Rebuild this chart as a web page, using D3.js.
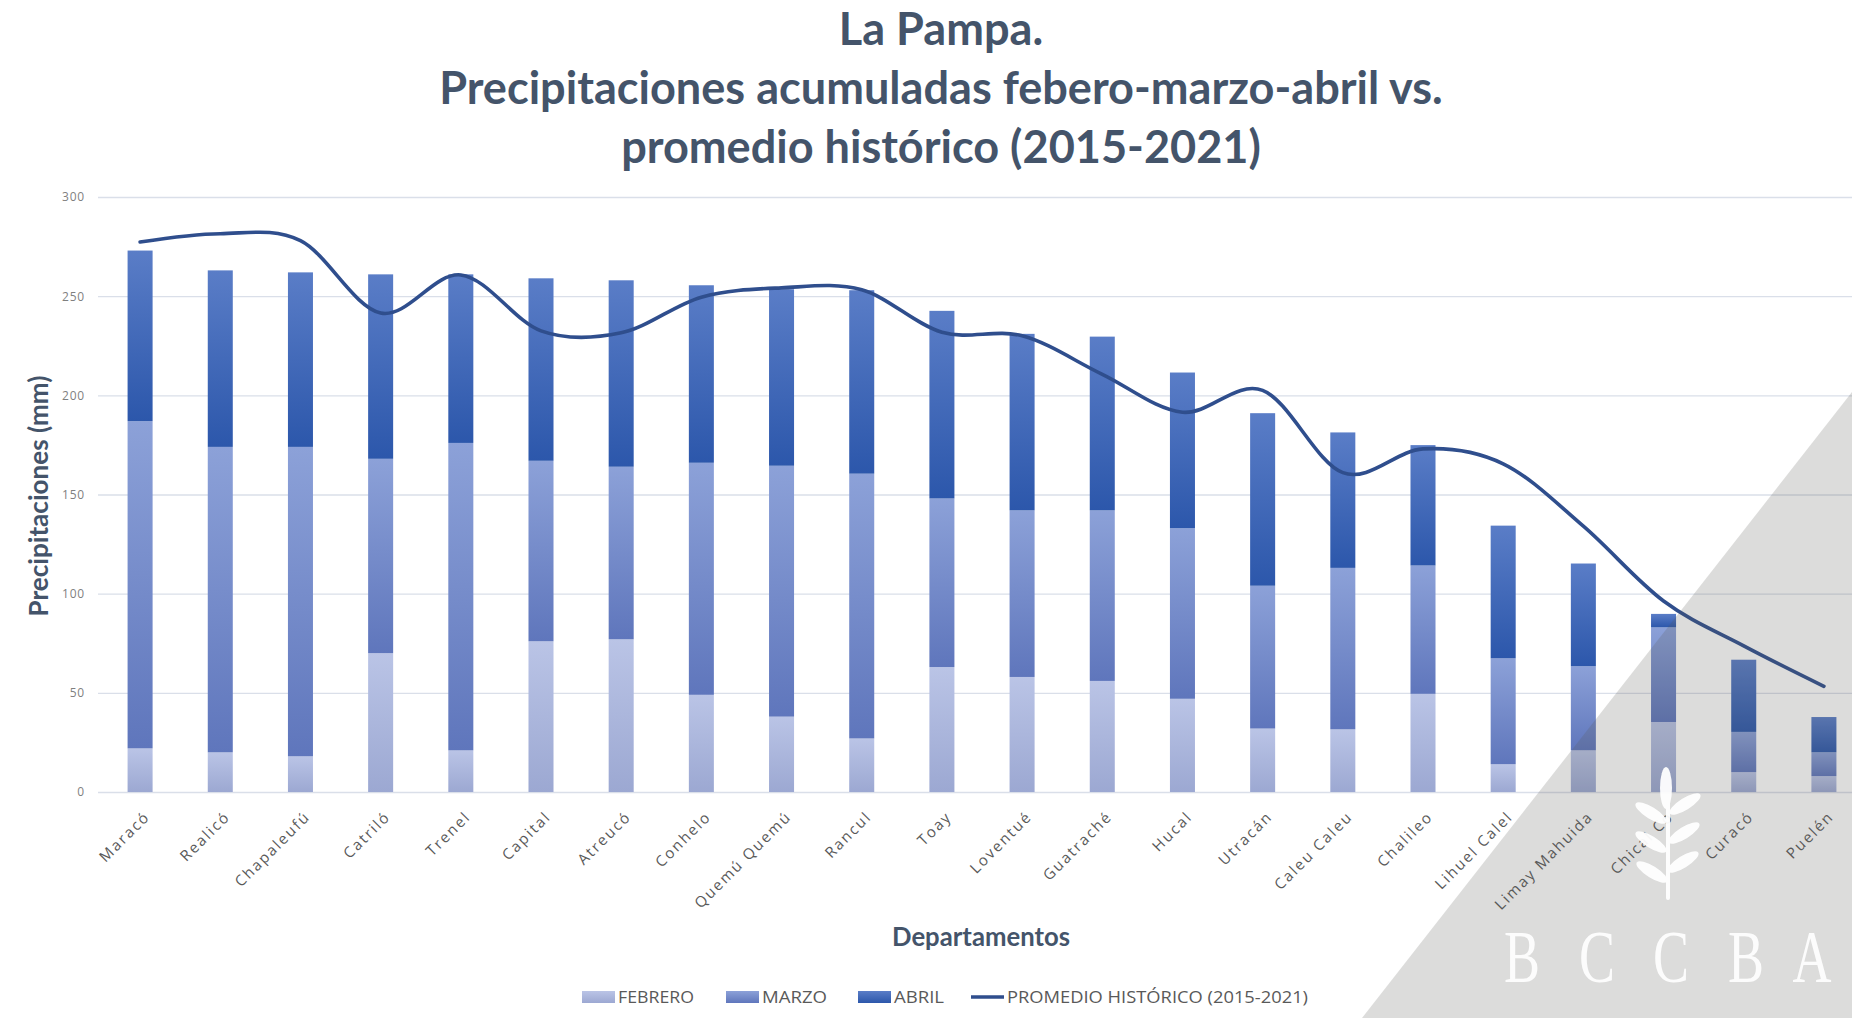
<!DOCTYPE html>
<html>
<head>
<meta charset="utf-8">
<script src="https://cdn.jsdelivr.net/npm/d3@7"></script>
<style>
  html, body { margin: 0; padding: 0; background: #fff; }
  svg { display: block; }
</style>
</head>
<body>
<div id="chart"></div>
<script>
// data (mm)
var departamentos = ["Maracó", "Realicó", "Chapaleufú", "Catriló", "Trenel", "Capital", "Atreucó",
    "Conhelo", "Quemú Quemú", "Rancul", "Toay", "Loventué", "Guatraché", "Hucal", "Utracán",
    "Caleu Caleu", "Chalileo", "Lihuel Calel", "Limay Mahuida", "Chical Co", "Curacó", "Puelén"];
var febrero = [22, 20, 18, 70, 21, 76, 77, 49, 38, 27, 63, 58, 56, 47, 32, 31.6, 49.5, 14, 21, 35.3, 10, 8];
var marzo   = [165, 154, 156, 98, 155, 91, 87, 117, 126.5, 133.5, 85, 84, 86, 86, 72, 81.4, 64.7, 53.4, 42.4, 47.7, 20.3, 12];
var abril   = [86, 89, 88, 93, 85, 92, 94, 89.5, 89, 92.5, 94.6, 89, 87.6, 78.5, 87, 68.3, 60.7, 66.9, 51.8, 6.8, 36.4, 17.8];
var promedio = [277.3, 281.5, 278, 241.5, 260.7, 232.5, 231.5, 249.5, 254.2, 253.2, 231.8, 230, 210.6,
    191.5, 202.5, 161, 173, 165.5, 134, 96.3, 73.7, 53.3];
var yTicks = [0, 50, 100, 150, 200, 250, 300];
var seriesKeys = ["FEBRERO", "MARZO", "ABRIL"];
var lineName = "PROMEDIO HISTÓRICO (2015-2021)";
var titleLines = ["La Pampa.", "Precipitaciones acumuladas febero-marzo-abril vs.", "promedio histórico (2015-2021)"];

function fitFont(sel, target) {
    // scale the font so the text takes the wanted width
    var size = parseFloat(sel.attr("font-size"));
    var len = sel.node().getComputedTextLength();
    sel.attr("font-size", size * target / len);
}

function init() {
    var w = 1852;
    var h = 1018;

    var rows = departamentos.map(function(d, i) {
        return { dep: d, FEBRERO: febrero[i], MARZO: marzo[i], ABRIL: abril[i] };
    });
    var stacked = d3.stack().keys(seriesKeys)(rows);

    var xScale = d3.scaleBand()
                   .domain(departamentos)
                   .range([100, 1864])
                   .paddingInner(0.688)
                   .paddingOuter(0.344);

    var yScale = d3.scaleLinear()
                   .domain([0, 300])
                   .range([792, 197]);

    var svg = d3.select("#chart")
                .append("svg")
                .attr("width", w)
                .attr("height", h)
                .style("font-family", "'Open Sans', sans-serif");

    // gradients, one per series (lighter at the top of each segment)
    var grads = {
        FEBRERO: ["#bac4e6", "#9ca8d2"],
        MARZO: ["#8ca1d8", "#5f76bc"],
        ABRIL: ["#5a7dc7", "#2c57ab"]
    };
    var defs = svg.append("defs");
    seriesKeys.forEach(function(k) {
        var g = defs.append("linearGradient")
                    .attr("id", "g-" + k)
                    .attr("x1", 0).attr("y1", 0).attr("x2", 0).attr("y2", 1);
        g.append("stop").attr("offset", "0%").attr("stop-color", grads[k][0]);
        g.append("stop").attr("offset", "100%").attr("stop-color", grads[k][1]);
    });

    // title
    var title = svg.append("g")
                   .attr("font-family", "Lato, sans-serif")
                   .attr("font-weight", "bold")
                   .attr("fill", "#44546a")
                   .attr("text-anchor", "middle");
    var baselines = [45, 104, 163];
    var tLines = title.selectAll("text")
        .data(titleLines)
        .enter()
        .append("text")
        .attr("x", 941)
        .attr("y", function(d, i) { return baselines[i]; })
        .attr("font-size", 40)
        .text(function(d) { return d; });
    var t2 = d3.select(tLines.nodes()[1]);
    fitFont(t2, 1004);
    tLines.attr("font-size", t2.attr("font-size"));

    // y axis with gridlines
    var yAxis = d3.axisLeft(yScale)
                  .tickValues(yTicks)
                  .tickSize(-(w - 98))
                  .tickPadding(13);
    var gy = svg.append("g")
                .attr("transform", "translate(98,0)")
                .call(yAxis);
    gy.select(".domain").remove();
    gy.selectAll(".tick line")
      .attr("stroke", "#dadfe9")
      .attr("stroke-width", 1.4);
    gy.selectAll(".tick text")
      .attr("font-family", "'Open Sans', sans-serif")
      .attr("font-size", 12)
      .attr("letter-spacing", 0.8)
      .attr("fill", "#7f7f7f");

    // stacked bars
    svg.append("g")
       .selectAll("g")
       .data(stacked)
       .enter()
       .append("g")
       .attr("fill", function(d) { return "url(#g-" + d.key + ")"; })
       .selectAll("rect")
       .data(function(d) { return d; })
       .enter()
       .append("rect")
       .attr("x", function(d) { return xScale(d.data.dep); })
       .attr("y", function(d) { return yScale(d[1]); })
       .attr("width", xScale.bandwidth())
       .attr("height", function(d) { return yScale(d[0]) - yScale(d[1]); });

    // smoothed historic average
    var line = d3.line()
                 .x(function(d, i) { return xScale(departamentos[i]) + xScale.bandwidth() / 2; })
                 .y(function(d) { return yScale(d); })
                 .curve(d3.curveCardinal.tension(0));
    svg.append("path")
       .datum(promedio)
       .attr("d", line)
       .attr("fill", "none")
       .attr("stroke", "#2f4e8d")
       .attr("stroke-width", 3.6)
       .attr("stroke-linecap", "round");

    // x axis labels
    var gx = svg.append("g")
                .attr("transform", "translate(0,792)")
                .call(d3.axisBottom(xScale).tickSize(0));
    gx.select(".domain").remove();
    gx.selectAll(".tick text")
      .attr("x", 0)
      .attr("y", 0)
      .attr("dy", "0.35em")
      .attr("transform", "translate(7,22) rotate(-45)")
      .style("text-anchor", "end")
      .attr("font-family", "'Open Sans', sans-serif")
      .attr("font-size", 15)
      .attr("letter-spacing", 1.9)
      .attr("fill", "#595959");

    // axis titles
    var yt = svg.append("text")
       .attr("transform", "translate(48,496) rotate(-90)")
       .attr("text-anchor", "middle")
       .attr("font-family", "Lato, sans-serif")
       .attr("font-weight", "bold")
       .attr("font-size", 22)
       .attr("fill", "#44546a")
       .text("Precipitaciones (mm)");
    fitFont(yt, 241);

    var xt = svg.append("text")
       .attr("x", 981)
       .attr("y", 946)
       .attr("text-anchor", "middle")
       .attr("font-family", "Lato, sans-serif")
       .attr("font-weight", "bold")
       .attr("font-size", 22)
       .attr("fill", "#44546a")
       .text("Departamentos");
    fitFont(xt, 178);

    // legend: swatch start and text width of each entry
    var legendX = [582, 726, 858, 971];
    var legendW = [76, 65, 50, 301];
    var items = seriesKeys.map(function(k) { return { name: k, type: "bar" }; });
    items.push({ name: lineName, type: "line" });
    var legend = svg.append("g").attr("transform", "translate(0,997)");
    items.forEach(function(it, i) {
        var g = legend.append("g").attr("transform", "translate(" + legendX[i] + ",0)");
        if (it.type === "bar") {
            g.append("rect")
             .attr("x", 0).attr("y", -6)
             .attr("width", 33).attr("height", 12)
             .attr("fill", "url(#g-" + it.name + ")");
        } else {
            g.append("line")
             .attr("x1", 0).attr("x2", 33)
             .attr("y1", 0).attr("y2", 0)
             .attr("stroke", "#2f4e8d")
             .attr("stroke-width", 3.6);
        }
        g.append("text")
         .attr("x", 36)
         .attr("y", 0)
         .attr("dy", "0.36em")
         .attr("font-family", "'Open Sans', sans-serif")
         .attr("font-size", 16.5)
         .attr("textLength", legendW[i])
         .attr("lengthAdjust", "spacingAndGlyphs")
         .attr("fill", "#595959")
         .text(it.name);
    });

    // watermark (grey corner, wheat and BCCBA letters)
    svg.append("polygon")
       .attr("points", "1852,392 1852,1018 1362,1018")
       .attr("fill", "#5a5855")
       .attr("opacity", 0.21);

    var wheat = svg.append("g").attr("fill", "#ffffff").attr("opacity", 0.95);
    wheat.append("rect").attr("x", 1666).attr("y", 800).attr("width", 4).attr("height", 100).attr("rx", 2);
    wheat.append("ellipse").attr("cx", 1666).attr("cy", 788).attr("rx", 6).attr("ry", 21);
    [[1651, 813], [1651, 842], [1652, 872]].forEach(function(p) {
        wheat.append("ellipse")
             .attr("transform", "translate(" + p[0] + "," + p[1] + ") rotate(32)")
             .attr("rx", 18).attr("ry", 6);
    });
    [[1685, 804], [1684, 833], [1683, 862]].forEach(function(p) {
        wheat.append("ellipse")
             .attr("transform", "translate(" + p[0] + "," + p[1] + ") rotate(-32)")
             .attr("rx", 18).attr("ry", 6);
    });

    var letters = ["B", "C", "C", "B", "A"];
    var letterX = [1522, 1597, 1671, 1746, 1812];
    svg.append("g")
       .selectAll("text")
       .data(letters)
       .enter()
       .append("text")
       .attr("transform", function(d, i) { return "translate(" + letterX[i] + ",982) scale(0.72,1)"; })
       .attr("text-anchor", "middle")
       .attr("font-family", "'Liberation Serif', serif")
       .attr("font-size", 75)
       .attr("fill", "#ffffff")
       .attr("opacity", 0.92)
       .text(function(d) { return d; });
}

window.onload = init;
</script>
</body>
</html>
